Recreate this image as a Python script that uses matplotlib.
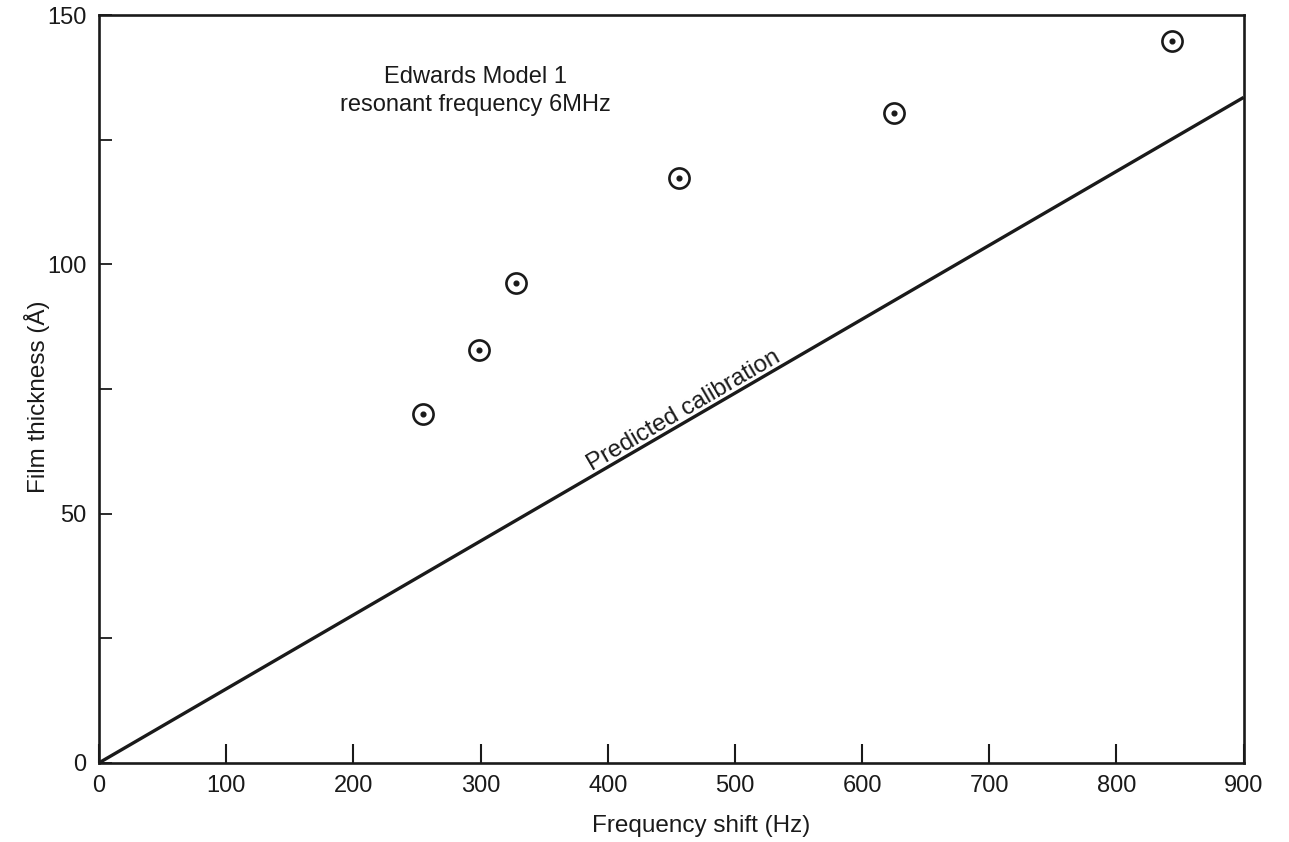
import matplotlib
matplotlib.use("Agg")
import matplotlib.pyplot as plt
import numpy as np

plt.rcParams['font.family'] = ['Liberation Sans', 'DejaVu Sans']

freq_shift = [255, 299, 328, 456, 625, 844]
thickness = [70.0, 82.8, 96.2, 117.4, 130.4, 144.8]
calib_x = [0, 900]
calib_y = [0, 133.5]
xticks = [0, 100, 200, 300, 400, 500, 600, 700, 800, 900]
yticks = [0, 50, 100, 150]
yminor = [25, 75, 125]

fig = plt.figure(figsize=(12.89, 8.42), dpi=100)
ax = fig.add_axes([0.0768, 0.094, 0.888, 0.888])
ax.set_xlim(0, 900)
ax.set_ylim(0, 150)

ax.plot(calib_x, calib_y, color='#1a1a1a', lw=2.4, solid_capstyle='butt')
ax.plot(freq_shift, thickness, linestyle='none', marker='o', markersize=14.5,
        markerfacecolor='white', markeredgecolor='#1a1a1a', markeredgewidth=1.9)
ax.plot(freq_shift, thickness, linestyle='none', marker='o', markersize=3.4,
        color='#1a1a1a')

ax.text(460, 70.6, 'Predicted calibration', rotation=30.2, rotation_mode='anchor',
        ha='center', va='center', fontsize=17.5, color='#1a1a1a')
ax.text(296, 134.7, 'Edwards Model 1\nresonant frequency 6MHz', ha='center',
        va='center', fontsize=17, color='#1a1a1a', linespacing=1.35)

ax.set_xticks(xticks)
ax.set_yticks(yticks)
ax.set_yticks(yminor, minor=True)
ax.tick_params(axis='x', direction='in', length=14, width=1.5, labelsize=17,
               pad=9, colors='#1a1a1a')
ax.tick_params(axis='y', which='both', direction='in', length=9, width=1.3,
               labelsize=17, pad=9, colors='#1a1a1a')
for s in ax.spines.values():
    s.set_linewidth(1.9)
    s.set_color('#1a1a1a')

ax.set_xlabel('Frequency shift (Hz)', fontsize=17.5, color='#1a1a1a')
ax.set_ylabel('Film thickness (Å)', fontsize=17.5, color='#1a1a1a')
ax.xaxis.set_label_coords(0.526, -0.07)
ax.yaxis.set_label_coords(-0.043, 0.49)

fig.savefig('out.png', dpi=100)
